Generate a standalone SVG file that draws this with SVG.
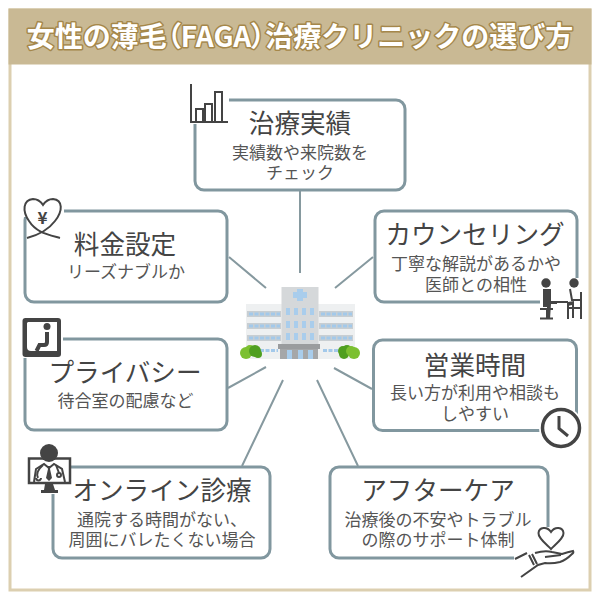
<svg xmlns="http://www.w3.org/2000/svg" width="600" height="600" viewBox="0 0 600 600">
<style>
text{font-family:"Noto Sans CJK JP","Noto Sans",sans-serif;text-anchor:middle}
.t{font-size:25.6px;fill:#444}
.s{font-size:17px;fill:#555}
.h{font-size:28px;font-weight:700;fill:#fff;stroke:#a5874a;stroke-width:3px;paint-order:stroke;stroke-linejoin:round}
.n{font-feature-settings:"palt"}
.b{fill:#fff;stroke:#81979f;stroke-width:3}
.c{stroke:#86999f;stroke-width:2;fill:none}
.i{fill:none;stroke:#444;stroke-width:2}
.f{fill:#444}
.k{fill:#fff}
.w{fill:#eef0f1}
.v{fill:#d5d8da}
.r{fill:#c8ced2}
.p{fill:#a9cdec}
.q{fill:none;stroke:#a3c9ea;stroke-width:3;stroke-dasharray:4 1.500}
.g{fill:#7cc031}
.d{fill:#4f9f20}
</style>
<rect width="600" height="600" fill="#fff"/>
<g id="frame">
<rect x="10" y="10" width="580" height="580" fill="#fff" stroke="#dccfb0" stroke-width="3"/>
<rect x="8.500" y="8.500" width="583" height="56" fill="#c9b994"/>
<text class="h" x="300" y="47">女性の薄毛<tspan class="n">（FAGA）</tspan>治療クリニックの選び方</text>
</g>
<g id="connectors">
<path class="c" d="M300 191V273M229 257L266 288M373 257L335 288M228 388L266 367M242 466L283 380M372 389L334 368M358 466L317 380"/>
</g>
<g id="hospital">
<rect class="w" x="246" y="304" width="109" height="55"/>
<rect class="v" x="281.500" y="287" width="37" height="60"/>
<path class="r" d="M247 311h34v6h-34zM247 323h34v6h-34zM247 335h34v6h-34zM319 311h34v6h-34zM319 323h34v6h-34zM319 335h34v6h-34z"/>
<path class="q" d="M249 314h31M249 326h31M249 338h31M249 350.500h29M321 314h31M321 326h31M321 338h31M323 350.500h29"/>
<path class="p" d="M286 308h4v7h-4zM294 308h4v7h-4zM302 308h4v7h-4zM310 308h4v7h-4zM286 321h4v7h-4zM294 321h4v7h-4zM302 321h4v7h-4zM310 321h4v7h-4zM286 333h4v7h-4zM294 333h4v7h-4zM302 333h4v7h-4zM310 333h4v7h-4z"/>
<path class="p" d="M297 289h6v3h4v6h-4v3h-6v-3h-4v-6h4z"/>
<rect x="278" y="344" width="42" height="5" fill="#9a9c9e"/>
<rect x="280" y="349" width="38" height="10" fill="#a5a7a9"/>
<path class="p" d="M287 350h5v9h-5zM298 350h5v9h-5zM308 350h5v9h-5z"/>
<g id="bush-left">
<circle class="g" cx="246" cy="353" r="6"/><circle class="g" cx="250" cy="350" r="5"/>
<circle class="d" cx="255" cy="351" r="6"/><circle class="d" cx="258" cy="354" r="4"/>
</g>
<g id="bush-right">
<circle class="d" cx="343" cy="351" r="5"/><circle class="d" cx="347" cy="350" r="5"/>
<circle class="d" cx="344" cy="354" r="5"/><circle class="g" cx="354" cy="353" r="6"/><circle class="g" cx="351" cy="351" r="5"/>
</g>
</g>
<g id="node-jisseki">
<rect class="b" x="195" y="100" width="210" height="90" rx="9"/>
<rect class="k" x="186" y="82" width="43" height="42"/>
<path class="i" d="M191 84V122H228"/>
<path class="i" d="M196 122V109H203V122M205 122V104H212V122M215 122V92H222V122" stroke-width="1.800"/>
<text class="t" x="300" y="133">治療実績</text>
<text class="s" x="300" y="158.500">実績数や来院数を</text>
<text class="s" x="300" y="179">チェック</text>
</g>
<g id="node-ryokin">
<rect class="b" x="25" y="211" width="202" height="91" rx="9"/>
<path class="k" d="M22 196H64V216H45V240H27V217H22z"/>
<path class="i" d="M27 238Q46 233 55 221C63 211 63 200 53 199C48 199 45 202 43 205C41 202 38 199 33 199C23 200 22 211 29 221C36 232 46 234 60 238" stroke-width="3"/>
<text x="42.500" y="223.500" font-size="17" font-weight="700" fill="#444">¥</text>
<text class="t" x="125" y="254">料金設定</text>
<text class="s" x="126" y="278">リーズナブルか</text>
</g>
<g id="node-counseling">
<rect class="b" x="375" y="211" width="202" height="91" rx="9"/>
<path class="k" d="M540 296H566V278H585V322H540z"/>
<circle class="f" cx="546" cy="283" r="4.700"/>
<circle class="f" cx="574" cy="283" r="4.700"/>
<path class="f" d="M543 289h8v12l6 0v3h-6l-1 15h-3v-12h-4z"/>
<path class="i" d="M540 309H553M547 309V318M540 318.500H553" stroke-width="2.500"/>
<path class="f" d="M557 301h11v2h-11z"/>
<path class="i" d="M570 289L572 300H581M568 303V319M581 292V319M568 308H581" stroke-width="2"/>
<path class="f" d="M568 302l6-1v17h-2v-13l-4 1z"/>
<text class="t" x="475" y="244">カウンセリング</text>
<text class="s" x="476" y="270">丁寧な解説があるかや</text>
<text class="s" x="476" y="291">医師との相性</text>
</g>
<g id="node-privacy">
<rect class="b" x="25" y="339" width="202" height="91" rx="9"/>
<rect class="k" x="20" y="315" width="43" height="43"/>
<rect class="f" x="22.500" y="318" width="38.500" height="39" rx="3"/>
<path class="k" d="M28 322H57V351H31Q27 351 27 347V323z"/>
<circle class="f" cx="47" cy="326.500" r="3.500"/>
<path d="M47 332V342Q47 345 44 345H39.500L36.500 351" fill="none" stroke="#444" stroke-width="4"/>
<text class="t" x="125" y="382">プライバシー</text>
<text class="s" x="125.500" y="407">待合室の配慮など</text>
</g>
<g id="node-hours">
<rect class="b" x="373.500" y="340" width="203" height="90.500" rx="9"/>
<circle class="k" cx="561" cy="428" r="22"/>
<circle cx="561" cy="428" r="18.500" fill="#fff" stroke="#444" stroke-width="3.500"/>
<path d="M559 416V428.500L568 436" fill="none" stroke="#444" stroke-width="3"/>
<text class="t" x="475" y="375">営業時間</text>
<text class="s" x="475" y="399">長い方が利用や相談も</text>
<text class="s" x="475" y="420">しやすい</text>
</g>
<g id="node-online">
<rect class="b" x="53" y="467" width="217" height="91" rx="9"/>
<rect class="k" x="26" y="442" width="45" height="52"/>
<rect x="29" y="458.500" width="41" height="24.500" fill="#fff" stroke="#444" stroke-width="2.500"/>
<path class="f" d="M45 484h8l2 6h3v3H41v-3h3z"/>
<circle class="f" cx="49" cy="453" r="9"/>
<path class="i" stroke-width="1" d="M34 482L36 469L44 464L49 468L54 464L62 469L65 482"/>
<path class="f" d="M47.500 466h3l-.5 3 2 9-3 3-3-3 2-9z"/>
<path class="i" stroke-width="1" d="M43 465Q35 472 38 478M36 478a2.500 2.500 0 1 0 5 0M56 465L59 473"/>
<circle class="i" stroke-width="1" cx="59" cy="475" r="2"/>
<text class="t" x="162" y="500">オンライン診療</text>
<text class="s" x="162" y="526">通院する時間がない、</text>
<text class="s" x="162" y="546">周囲にバレたくない場合</text>
</g>
<g id="node-aftercare">
<rect class="b" x="330" y="467" width="218" height="91" rx="9"/>
<rect class="k" x="514" y="527" width="66" height="54"/>
<path class="i" d="M551 549C546 544 538 538 538.500 533C539 527 547 526 551 532C555 526 563 527 563.500 533C564 538 556 544 551 549Z"/>
<path class="i" stroke-width="1.800" d="M515 559L527 553M529 555L534 565M532 554L537 564M535 553Q545 550 552 552L562 554Q568 552 573 551Q574 553 572 554Q566 560 560 562Q552 564 545 563L538 565L521 577M545 557Q553 556 561 555"/>
<text class="t" x="438" y="500">アフターケア</text>
<text class="s" x="438" y="526">治療後の不安やトラブル</text>
<text class="s" x="438" y="546">の際のサポート体制</text>
</g>
</svg>
